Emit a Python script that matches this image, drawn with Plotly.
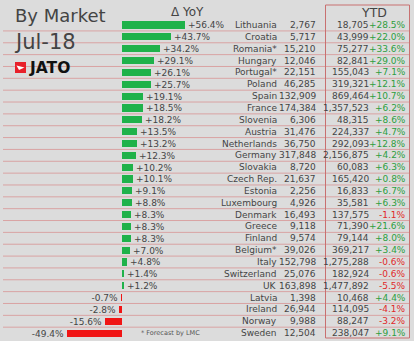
import plotly.graph_objects as go

countries = ["Lithuania", "Croatia", "Romania*", "Hungary", "Portugal*", "Poland", "Spain", "France",
             "Slovenia", "Austria", "Netherlands", "Germany", "Slovakia", "Czech Rep.", "Estonia",
             "Luxembourg", "Denmark", "Greece", "Finland", "Belgium*", "Italy", "Switzerland", "UK",
             "Latvia", "Ireland", "Norway", "Sweden"]
yoy = [56.4, 43.7, 34.2, 29.1, 26.1, 25.7, 19.1, 18.5, 18.2, 13.5, 13.2, 12.3, 10.2, 10.1, 9.1,
       8.8, 8.3, 8.3, 8.3, 7.0, 4.8, 1.4, 1.2, -0.7, -2.8, -15.6, -49.4]
month_vol = [2767, 5717, 15210, 12046, 22151, 46285, 132909, 174384, 6306, 31476, 36750, 317848,
             8720, 21637, 2256, 4926, 16493, 9118, 9574, 39026, 152798, 25076, 163898, 1398,
             26944, 9988, 12504]
ytd_vol = [18705, 43999, 75277, 82841, 155043, 319321, 869464, 1357523, 48315, 224337, 292093,
           2156875, 60083, 165420, 16833, 35581, 137575, 71390, 79144, 369217, 1275288, 182924,
           1477892, 10468, 114095, 88247, 238047]
ytd_pct = [28.5, 22.0, 33.6, 29.0, 7.1, 12.1, 10.7, 6.2, 8.6, 4.7, 12.8, 4.2, 6.3, 0.8, 6.7, 6.3,
           -1.1, 21.6, 8.0, 3.4, -0.6, -0.6, -5.5, 4.4, -4.1, -3.2, 9.1]

W, H = 414, 341
FONT = "DejaVu Sans"
GREEN = "#1fb24a"
RED = "#f01515"
TXT = "#454545"
LINE = "#d9a3a3"

rows = list(range(len(countries)))

fig = go.Figure()
fig.add_trace(go.Bar(
    y=rows, x=yoy, orientation="h", width=0.6,
    marker=dict(color=[GREEN if v >= 0 else RED for v in yoy], line=dict(width=0)),
    text=[f"{v:+.1f}%" for v in yoy], textposition="outside",
    textfont=dict(family=FONT, size=9, color=TXT),
    constraintext="none", cliponaxis=False, hoverinfo="skip",
))

ann = []
def px(x):
    return x / W

for i in rows:
    ann.append(dict(x=px(279), y=i, xref="paper", yref="y", text=countries[i], showarrow=False,
                    xanchor="right", font=dict(family=FONT, size=9, color=TXT)))
    ann.append(dict(x=px(318), y=i, xref="paper", yref="y", text=f"{month_vol[i]:,}", showarrow=False,
                    xanchor="right", font=dict(family=FONT, size=9, color=TXT)))
    ann.append(dict(x=px(371), y=i, xref="paper", yref="y", text=f"{ytd_vol[i]:,}", showarrow=False,
                    xanchor="right", font=dict(family=FONT, size=9, color=TXT)))
    p = ytd_pct[i]
    ann.append(dict(x=px(408), y=i, xref="paper", yref="y", text=f"{p:+.1f}%", showarrow=False,
                    xanchor="right", font=dict(family=FONT, size=9, color="#2e9e3e" if p >= 0 else "#e02a2a")))

# headers & titles
ann += [
    dict(x=px(13), y=1 - 16 / H, xref="paper", yref="paper", text="By Market", showarrow=False,
         xanchor="left", yanchor="middle", font=dict(family=FONT, size=18, color="#444444")),
    dict(x=px(12), y=1 - 42 / H, xref="paper", yref="paper", text="Jul-18", showarrow=False,
         xanchor="left", yanchor="middle", font=dict(family=FONT, size=21, color="#444444")),
    dict(x=px(27), y=1 - 68 / H, xref="paper", yref="paper", text="<b>JATO</b>", showarrow=False,
         xanchor="left", yanchor="middle", font=dict(family=FONT, size=15.5, color="#111111")),
    dict(x=px(187), y=1 - 12 / H, xref="paper", yref="paper", text="Δ YoY", showarrow=False,
         xanchor="center", yanchor="middle", font=dict(family=FONT, size=12, color="#444444")),
    dict(x=px(374), y=1 - 13 / H, xref="paper", yref="paper", text="YTD", showarrow=False,
         xanchor="center", yanchor="middle", font=dict(family=FONT, size=12.5, color="#444444")),
    dict(x=px(139), y=1 - 333 / H, xref="paper", yref="paper", text="* Forecast by LMC", showarrow=False,
         xanchor="left", yanchor="middle", font=dict(family=FONT, size=6.5, color="#555555")),
]

shapes = []
for i in rows[:-1]:
    shapes.append(dict(type="line", xref="paper", yref="y", x0=px(3), x1=px(410), y0=i + 0.5, y1=i + 0.5,
                       line=dict(color=LINE, width=1), layer="below"))
shapes.append(dict(type="rect", xref="paper", yref="paper", x0=px(325.5), x1=px(409.5),
                   y0=1 - 338 / H, y1=1 - 5 / H, line=dict(color="#c87070", width=1)))
# JATO logo mark
shapes.append(dict(type="rect", xref="paper", yref="paper", x0=px(15), x1=px(26),
                   y0=1 - 73 / H, y1=1 - 62 / H, fillcolor="#e8202a", line=dict(width=0)))
shapes.append(dict(type="path", xref="paper", yref="paper",
                   path=f"M {px(16.5)},{1-65.5/H} L {px(24.5)},{1-67.5/H} L {px(19)},{1-70/H} Z",
                   fillcolor="white", line=dict(width=0)))

fig.update_layout(
    width=W, height=H, margin=dict(l=0, r=0, t=0, b=0),
    paper_bgcolor="#dcdcdc", plot_bgcolor="rgba(0,0,0,0)",
    xaxis=dict(range=[-122 / 1.115, (W - 122) / 1.115], visible=False, fixedrange=True),
    yaxis=dict(range=[(H - 25) / 11.85, -25 / 11.85], visible=False, fixedrange=True),
    showlegend=False, annotations=ann, shapes=shapes, bargap=0,
)

fig.write_html("out.html")
